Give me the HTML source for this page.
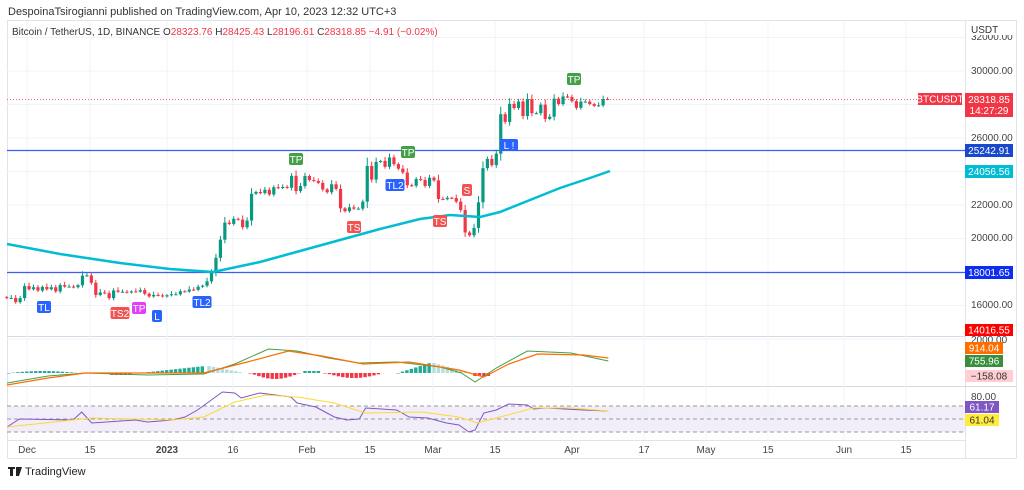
<!DOCTYPE html>
<html><head><meta charset="utf-8"><style>
body{margin:0;background:#fff;width:1024px;height:485px;overflow:hidden;font-family:"Liberation Sans",sans-serif}
svg text{font-family:"Liberation Sans",sans-serif}
</style></head><body>
<svg id="s" width="1024" height="485" xmlns="http://www.w3.org/2000/svg">
<text x="8" y="15" font-size="11" fill="#333">DespoinaTsirogianni published on TradingView.com, Apr 10, 2023 12:32 UTC+3</text>
<rect x="7.5" y="20.5" width="1009" height="438" fill="none" stroke="#e0e3eb"/>
<line x1="965.5" y1="20" x2="965.5" y2="458" stroke="#e0e3eb"/>
<line x1="7" y1="336.5" x2="965" y2="336.5" stroke="#d6d9e0"/>
<line x1="7" y1="386.5" x2="1017" y2="386.5" stroke="#d6d9e0"/>
<line x1="7" y1="440.5" x2="965" y2="440.5" stroke="#e0e3eb"/>
<g id="grid"></g>
<g id="plot"></g>
<text x="12" y="35" font-size="10" fill="#333">Bitcoin / TetherUS, 1D, BINANCE <tspan fill="#333">O</tspan><tspan fill="#f23645">28323.76</tspan> <tspan fill="#333">H</tspan><tspan fill="#f23645">28425.43</tspan> <tspan fill="#333">L</tspan><tspan fill="#f23645">28196.61</tspan> <tspan fill="#333">C</tspan><tspan fill="#f23645">28318.85 −4.91 (−0.02%)</tspan></text>
<g id="ax" font-size="10" fill="#444"></g>
<rect x="966" y="22" width="50" height="13" fill="#fff"/>
<text x="971" y="33" font-size="10" fill="#333">USDT</text>
<path d="M8 467h7v2h-2v7h-3v-7h-2z M16 467h6l-3 9h-3z" fill="#222"/>
<text x="25" y="475" font-size="11" fill="#222">TradingView</text>
</svg>
<script>
const G=document.getElementById('grid'),P=document.getElementById('plot'),A=document.getElementById('ax');
const NS='http://www.w3.org/2000/svg';
function el(p,t,a,txt){const e=document.createElementNS(NS,t);for(const k in a)e.setAttribute(k,a[k]);if(txt!==undefined)e.textContent=txt;p.appendChild(e);return e;}
const py=p=>71+(30000-p)*0.01675;
const dx=d=>167+d*4.45;
[32000,30000,28000,26000,24000,22000,20000,18000,16000,14000].forEach(p=>el(G,'line',{x1:7,x2:965,y1:py(p),y2:py(p),stroke:'#f0f3fa'}));
const tx=[[27,'Dec'],[90,'15'],[167,'2023'],[233,'16'],[307,'Feb'],[370,'15'],[433,'Mar'],[495,'15'],[572,'Apr'],[644,'17'],[706,'May'],[768,'15'],[844,'Jun'],[906,'15']];
tx.forEach(([x,t])=>{el(G,'line',{x1:x,x2:x,y1:21,y2:440,stroke:'#f0f3fa'});el(A,'text',{x:x,y:453,'text-anchor':'middle','font-weight':t=='2023'?'bold':'normal',fill:'#444'},t);});
[[40,'32000.00'],[74,'30000.00'],[141,'26000.00'],[208,'22000.00'],[241,'20000.00'],[308,'16000.00'],[343,'2000.00'],[400,'80.00']].forEach(([y,t])=>el(A,'text',{x:971,y:y},t));
el(P,'rect',{x:7,y:406,width:958,height:26,fill:'#ede7f6',opacity:0.7});
[406,419,432].forEach(y=>el(P,'line',{x1:7,x2:965,y1:y,y2:y,stroke:'#999','stroke-dasharray':'4 3'}));
el(P,'line',{x1:7,x2:965,y1:150.5,y2:150.5,stroke:'#3f5ef0','stroke-width':1.2});
el(P,'line',{x1:7,x2:965,y1:272.5,y2:272.5,stroke:'#3f5ef0','stroke-width':1.2});
el(P,'line',{x1:7,x2:918,y1:99.5,y2:99.5,stroke:'#f23645','stroke-dasharray':'1 2','stroke-width':0.8});
const C=[16450,16450,16200,16440,17160,16970,17090,16890,17110,16970,17090,16840,17220,17130,17130,17090,17210,17780,17800,17360,16630,16780,16740,16440,16900,16820,16820,16780,16840,16830,16920,16700,16540,16630,16600,16540,16610,16670,16670,16850,16830,16950,16940,17120,17180,17440,17940,18850,19930,20950,20870,21180,21130,20670,21070,22670,22780,22710,22910,22630,23060,23010,23080,23030,23740,22830,23130,23730,23490,23430,23320,22930,22760,23240,22960,21800,21630,21860,21780,21780,22200,24330,23520,24570,24630,24280,24840,24440,24170,23940,23180,23150,23550,23490,23140,23630,23470,22360,22350,22430,22410,22200,21700,20360,20190,20630,22160,24200,24750,24380,25060,27420,26960,28040,27790,28180,27310,28330,27480,27480,27990,27140,27270,28350,28030,28480,28450,28200,27800,28170,28170,28030,27920,27950,28330,28318];
let prev=16500;
C.forEach((c,i)=>{const d=i-36,x=dx(d),o=prev;const up=c>=o;const col=up?'#089981':'#f23645';
 const r=Math.abs(c-o);let h=Math.max(o,c)+60+r*0.15+40*((i*7)%4),l=Math.min(o,c)-60-r*0.15-40*((i*3)%3);
 el(P,'line',{x1:x,x2:x,y1:py(h),y2:py(l),stroke:col});
 const y1=py(Math.max(o,c)),y2=py(Math.min(o,c));el(P,'rect',{x:x-1.6,y:y1,width:3.2,height:Math.max(1,y2-y1),fill:col});prev=c;});
el(P,'polyline',{points:'7,244 60,254 120,263 170,269 213,272 260,262 300,251 340,240 380,229 420,219 450,215 480,217 500,212 530,200 560,188 590,178 610,171',fill:'none',stroke:'#00bcd4','stroke-width':2.5});
const sc=a=>a.map(([x,y])=>(7+(x-7)*1.245).toFixed(1)+','+y).join(' ');
function hb(x0,x1,f,col){for(let x=x0;x<=x1;x+=4.45){const v=f((x-x0)/(x1-x0));el(P,'rect',{x:x-1.7,y:v<0?373+v:373,width:3.4,height:Math.abs(v)||0.5,fill:col});}}
hb(9,78,t=>-2*Math.sin(Math.PI*t),'#26a69a');
hb(112,130,t=>2,'#f23645');
hb(140,205,t=>-7*t,'#22ab94');hb(209,245,t=>-7*(1-t),'#b2dfdb');
hb(250,300,t=>6*Math.sin(Math.PI*t),'#f23645');hb(305,320,t=>-2,'#26a69a');
hb(325,395,t=>5*Math.sin(Math.PI*Math.min(1,t*1.2)),'#f23645');
hb(398,430,t=>-10*t,'#22ab94');hb(434,470,t=>-10*(1-t),'#b2dfdb');
hb(475,490,t=>3,'#f23645');
el(P,'polyline',{points:sc([[7,383],[40,376],[70,373],[120,375],[165,374],[190,364],[217,349],[240,351],[265,358],[290,363],[320,362],[355,367],[372,373],[383,382],[400,368],[425,351],[460,353],[490,361]]),fill:'none',stroke:'#43a047','stroke-width':1});
el(P,'polyline',{points:sc([[7,385],[40,378],[70,373],[165,373],[200,362],[233,351],[260,356],[293,364],[330,362],[370,370],[390,377],[410,364],[433,354],[470,355],[490,358]]),fill:'none',stroke:'#ff6d00','stroke-width':1.2});
el(P,'polyline',{points:sc([[7,427],[17,419],[60,420],[67,412],[75,423],[110,420],[120,422],[140,420],[150,417],[160,410],[180,392],[190,393],[195,398],[210,393],[235,397],[240,403],[255,407],[270,417],[280,420],[290,419],[295,408],[320,410],[330,417],[345,418],[360,423],[370,425],[378,432],[383,430],[390,413],[400,410],[410,404],[425,405],[430,409],[440,408],[470,410],[490,411]]),fill:'none',stroke:'#7e57c2','stroke-width':1});
el(P,'polyline',{points:sc([[7,427],[75,418],[140,420],[165,417],[190,402],[215,395],[240,397],[270,403],[295,413],[340,412],[370,417],[385,423],[400,418],[430,408],[460,408],[490,411]]),fill:'none',stroke:'#fdd835','stroke-width':1});
function mk(x,y,t,col,w){el(P,'rect',{x:x-w/2,y:y-6,width:w,height:12,rx:2,fill:col});el(P,'text',{x:x,y:y+4,'font-size':10,fill:'#fff','text-anchor':'middle'},t);}
mk(44,307,'TL','#2962ff',14);mk(120,313,'TS2','#f05350',19);mk(139,308,'TP','#e040fb',14);mk(157,316,'L','#2962ff',10);mk(202,302,'TL2','#2962ff',19);
mk(296,159,'TP','#43a047',14);mk(354,227,'TS','#f05350',14);mk(395,185,'TL2','#2962ff',19);mk(408,152,'TP','#43a047',14);mk(467,190,'S','#f05350',10);mk(440,221,'TS','#f05350',14);mk(509,145,'L !','#2962ff',18);mk(574,79,'TP','#43a047',14);
function lb(x,y,w,h,col,t,tc){el(A,'rect',{x:x,y:y,width:w,height:h,fill:col});el(A,'text',{x:x+w/2,y:y+h/2+3.5,'text-anchor':'middle',fill:tc||'#fff','font-size':10},t);}
lb(918,93,44,12,'#f23645','BTCUSDT');
el(A,'rect',{x:965,y:93,width:48,height:24,fill:'#f23645'});
el(A,'text',{x:989,y:103,'text-anchor':'middle',fill:'#fff'},'28318.85');el(A,'text',{x:989,y:114,'text-anchor':'middle',fill:'#fff'},'14:27:29');
lb(965,144,48,13,'#1848cc','25242.91');lb(965,165,48,13,'#00bcd4','24056.56');lb(965,266,48,13,'#0d2df0','18001.65');
lb(965,324,48,12,'#ff0000','14016.55');lb(965,342,38,12,'#ff6d00','914.04');lb(965,355,38,12,'#388e3c','755.96');
lb(965,370,48,12,'#ffcdd2','−158.08','#333');lb(965,401,34,12,'#7e57c2','61.17');lb(965,414,34,12,'#ffeb3b','61.04','#333');
</script>
</body></html>
